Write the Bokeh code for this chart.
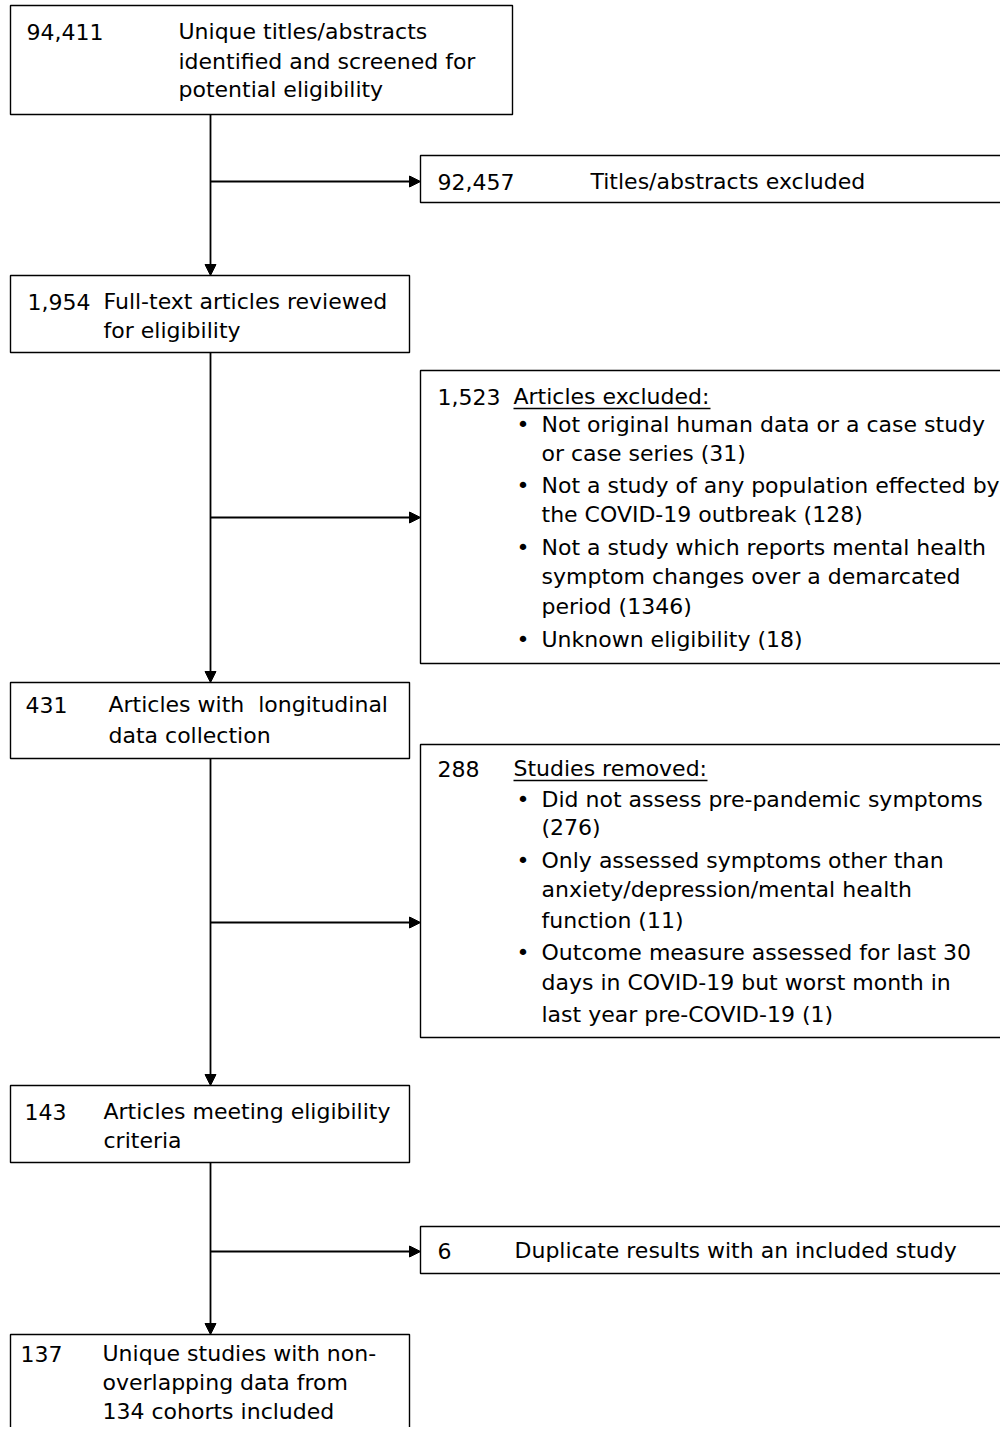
from bokeh.plotting import figure
from bokeh.models import Range1d, ColumnDataSource, Arrow, NormalHead
from bokeh.core.properties import value
from bokeh.embed import file_html
from bokeh.resources import INLINE

# ---------------- data (counts and labels) ----------------
main_counts = ["94,411", "1,954", "431", "143", "137"]
main_labels = [
    ["Unique titles/abstracts", "identified and screened for", "potential eligibility"],
    ["Full-text articles reviewed", "for eligibility"],
    ["Articles with \u00a0longitudinal", "data collection"],
    ["Articles meeting eligibility", "criteria"],
    ["Unique studies with non-", "overlapping data from", "134 cohorts included"],
]
side_counts = ["92,457", "1,523", "288", "6"]
side_headings = ["Titles/abstracts excluded", "Articles excluded:", "Studies removed:",
                 "Duplicate results with an included study"]
side_underlined = [False, True, True, False]
side_reasons = [
    [],
    [["Not original human data or a case study", "or case series (31)"],
     ["Not a study of any population effected by", "the COVID-19 outbreak (128)"],
     ["Not a study which reports mental health", "symptom changes over a demarcated", "period (1346)"],
     ["Unknown eligibility (18)"]],
    [["Did not assess pre-pandemic symptoms", "(276)"],
     ["Only assessed symptoms other than", "anxiety/depression/mental health", "function (11)"],
     ["Outcome measure assessed for last 30", "days in COVID-19 but worst month in",
      "last year pre-COVID-19 (1)"]],
    [],
]

# ---------------- layout (pixel positions) ----------------
FONT = "DejaVu Sans"
FS = "22px"
FLOW_X = 210
TEXT_DY = -8
main_boxes = [(10, 512, 5, 114), (10, 409, 275, 352), (10, 409, 682, 758),
              (10, 409, 1085, 1162), (10, 409, 1334, 1450)]
main_count_x = [26, 27, 25, 24, 20]
main_text_x = [178, 103, 108, 103, 102]
main_baselines = [[39, 69, 97], [309, 338], [712, 743], [1119, 1148], [1361, 1390, 1419]]

side_boxes = [(420, 1015, 155, 202), (420, 1015, 370, 663), (420, 1015, 744, 1037),
              (420, 1015, 1226, 1273)]
side_arrow_y = [181, 517, 922, 1251]
side_count_x = 437
side_heading_x = [590, 513, 513, 514]
side_heading_y = [189, 404, 776, 1258]
underline_len = [0, 197, 194, 0]
bullet_x = 516
bullet_text_x = 541
side_reason_y = [
    [],
    [[432, 461], [493, 522], [555, 584, 614], [647]],
    [[807, 835], [868, 897, 928], [960, 990, 1022]],
    [],
]

p = figure(width=1000, height=1427, x_range=Range1d(0, 1000), y_range=Range1d(1427, 0),
           output_backend="svg", toolbar_location=None,
           x_axis_location=None, y_axis_location=None, min_border=0)
p.grid.visible = False
p.outline_line_color = None
p.background_fill_color = "white"
p.border_fill_color = "white"

# boxes
allb = main_boxes + side_boxes
p.quad(left=[b[0] for b in allb], right=[b[1] for b in allb],
       top=[b[2] for b in allb], bottom=[b[3] for b in allb],
       fill_color="white", line_color="black", line_width=1.4)

# flow arrows (vertical)
for i in range(len(main_boxes) - 1):
    p.add_layout(Arrow(end=NormalHead(size=11, fill_color="black", line_color="black", line_width=1),
                       x_start=FLOW_X, y_start=main_boxes[i][3],
                       x_end=FLOW_X, y_end=main_boxes[i + 1][2],
                       line_width=1.8, line_color="black"))
# side arrows (horizontal)
for i, y in enumerate(side_arrow_y):
    p.add_layout(Arrow(end=NormalHead(size=11, fill_color="black", line_color="black", line_width=1),
                       x_start=FLOW_X, y_start=y, x_end=side_boxes[i][0], y_end=y,
                       line_width=1.8, line_color="black"))

# texts
tx, ty, tt = [], [], []
for i, c in enumerate(main_counts):
    tx.append(main_count_x[i]); ty.append(main_baselines[i][0] + TEXT_DY); tt.append(c)
    for j, line in enumerate(main_labels[i]):
        tx.append(main_text_x[i]); ty.append(main_baselines[i][j] + TEXT_DY); tt.append(line)
for i, c in enumerate(side_counts):
    tx.append(side_count_x); ty.append(side_heading_y[i] + TEXT_DY); tt.append(c)
    tx.append(side_heading_x[i]); ty.append(side_heading_y[i] + TEXT_DY); tt.append(side_headings[i])
    for k, reason in enumerate(side_reasons[i]):
        ys = side_reason_y[i][k]
        tx.append(bullet_x); ty.append(ys[0] + TEXT_DY); tt.append("\u2022")
        for j, line in enumerate(reason):
            tx.append(bullet_text_x); ty.append(ys[j] + TEXT_DY); tt.append(line)

src = ColumnDataSource(dict(x=tx, y=ty, text=tt))
p.text(x="x", y="y", text="text", source=src, text_font=value(FONT), text_font_size=FS,
       text_color="black", text_align="left", text_baseline="alphabetic")

# underlines
ux0, ux1, uy = [], [], []
for i, u in enumerate(side_underlined):
    if u:
        ux0.append(side_heading_x[i]); ux1.append(side_heading_x[i] + underline_len[i])
        uy.append(side_heading_y[i] + 4)
p.segment(x0=ux0, y0=uy, x1=ux1, y1=uy, line_color="black", line_width=1.3)

open("out.html", "w").write(file_html(p, INLINE))
